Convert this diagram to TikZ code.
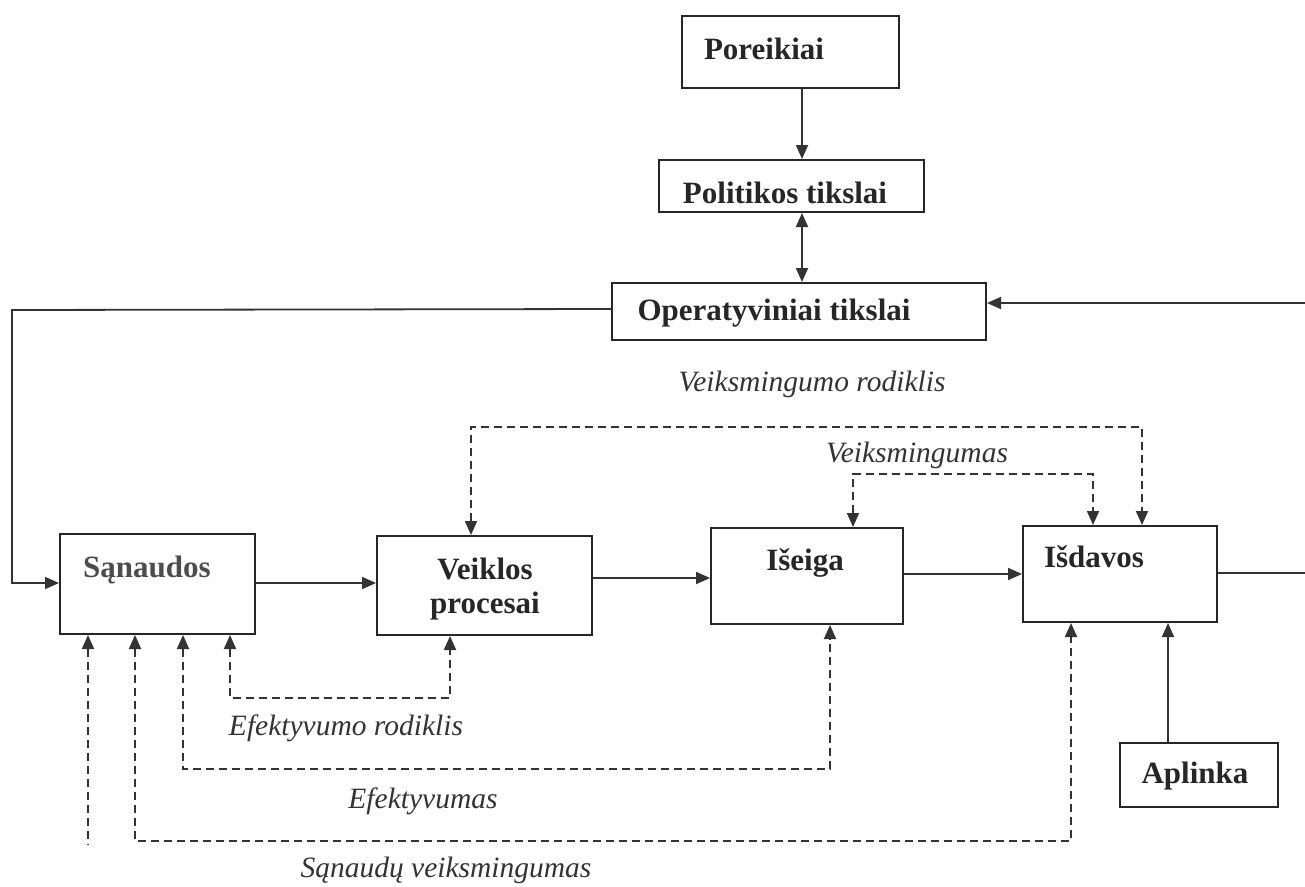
\documentclass[tikz,border=0pt]{standalone}
\usepackage{fontspec}
\setmainfont{Liberation Serif}
\usetikzlibrary{arrows.meta}
\begin{document}
\begin{tikzpicture}[x=1pt,y=-1pt,
  box/.style={draw=black!85, line width=2pt, rectangle, inner sep=0pt},
  btext/.style={anchor=base, inner sep=0pt, text=black!85, font=\fontsize{31}{34}\selectfont\bfseries},
  itext/.style={anchor=base, inner sep=0pt, text=black!80, font=\fontsize{29.5}{32}\selectfont\itshape},
  plain/.style={draw=black!80, line width=1.8pt},
  link/.style={plain, -{Triangle[length=14pt,width=12pt]}},
  twoway/.style={plain, {Triangle[length=14pt,width=12pt]}-{Triangle[length=14pt,width=12pt]}},
  fb/.style={draw=black!80, line width=1.8pt, dash pattern=on 8pt off 5pt},
  fbtwo/.style={fb, {Triangle[length=14pt,width=12pt]}-{Triangle[length=14pt,width=12pt]}},
  fbone/.style={fb, {Triangle[length=14pt,width=12pt]}-},
]
\useasboundingbox (0,0) rectangle (1305,886);

% boxes
\node[box, minimum width=217pt, minimum height=72pt] (por) at (790.5,52) {};
\node[box, minimum width=265pt, minimum height=52pt] (pol) at (791.5,186) {};
\node[box, minimum width=374pt, minimum height=57pt] (ope) at (799,311.5) {};
\node[box, minimum width=195pt, minimum height=100pt] (san) at (157.5,584) {};
\node[box, minimum width=215pt, minimum height=99pt] (vei) at (484.5,585.5) {};
\node[box, minimum width=192pt, minimum height=96pt] (ise) at (807,576) {};
\node[box, minimum width=194pt, minimum height=96pt] (isd) at (1120,574) {};
\node[box, minimum width=158pt, minimum height=64pt] (apl) at (1199,775) {};

% box captions
\node[btext] (tpor) at (764,59) {Poreikiai};
\node[btext] (tpol) at (785,203) {Politikos tikslai};
\node[btext] (tope) at (774,320) {Operatyviniai tikslai};
\node[btext, text=black!70] (tsan) at (147,577) {Sąnaudos};
\node[btext] (tvei1) at (485,579) {Veiklos};
\node[btext] (tvei2) at (485,613) {procesai};
\node[btext] (tise) at (805,570) {Išeiga};
\node[btext] (tisd) at (1094,567) {Išdavos};
\node[btext] (tapl) at (1195,783) {Aplinka};

% indicator labels
\node[itext] (lvr) at (812,391) {Veiksmingumo rodiklis};
\node[itext] (lv) at (917,462) {Veiksmingumas};
\node[itext] (ler) at (346,735) {Efektyvumo rodiklis};
\node[itext] (le) at (423,808) {Efektyvumas};
\node[itext] (lsv) at (446,877) {Sąnaudų veiksmingumas};

% free ends
\coordinate (rin) at (1305,303);
\coordinate (rout) at (1305,573);
\coordinate (lend) at (88,845);

% main flow
\draw[link] (por.south -| 802,0) -- (pol.north -| 802,0);
\draw[twoway] (pol.south -| 802,0) -- (ope.north -| 802,0);
\draw[link] (ope.west |- 0,309) -- (12,310) -- (12,583) -- (san.west |- 0,583);
\draw[link] (rin) -- (ope.east |- rin);
\draw[link] (san.east |- 0,583) -- (vei.west |- 0,583);
\draw[link] (vei.east |- 0,578) -- (ise.west |- 0,578);
\draw[link] (ise.east |- 0,574) -- (isd.west |- 0,574);
\draw[plain] (isd.east |- rout) -- (rout);
\draw[link] (apl.north -| 1168,0) -- (isd.south -| 1168,0);

% dashed feedback above
\draw[fbtwo] (vei.north -| 471,0) -- (471,427) -- (1142,427) -- (isd.north -| 1142,0);
\draw[fbtwo] (ise.north -| 853,0) -- (853,474) -- (1093,474) -- (isd.north -| 1093,0);

% dashed feedback below
\draw[fbtwo] (san.south -| 230,0) -- (230,698) -- (450,698) -- (vei.south -| 450,0);
\draw[fbtwo] (san.south -| 183,0) -- (183,769) -- (830,769) -- (ise.south -| 830,0);
\draw[fbtwo] (san.south -| 135,0) -- (135,841) -- (1071,841) -- (isd.south -| 1071,0);
\draw[fbone] (san.south -| lend) -- (lend);
\end{tikzpicture}
\end{document}
